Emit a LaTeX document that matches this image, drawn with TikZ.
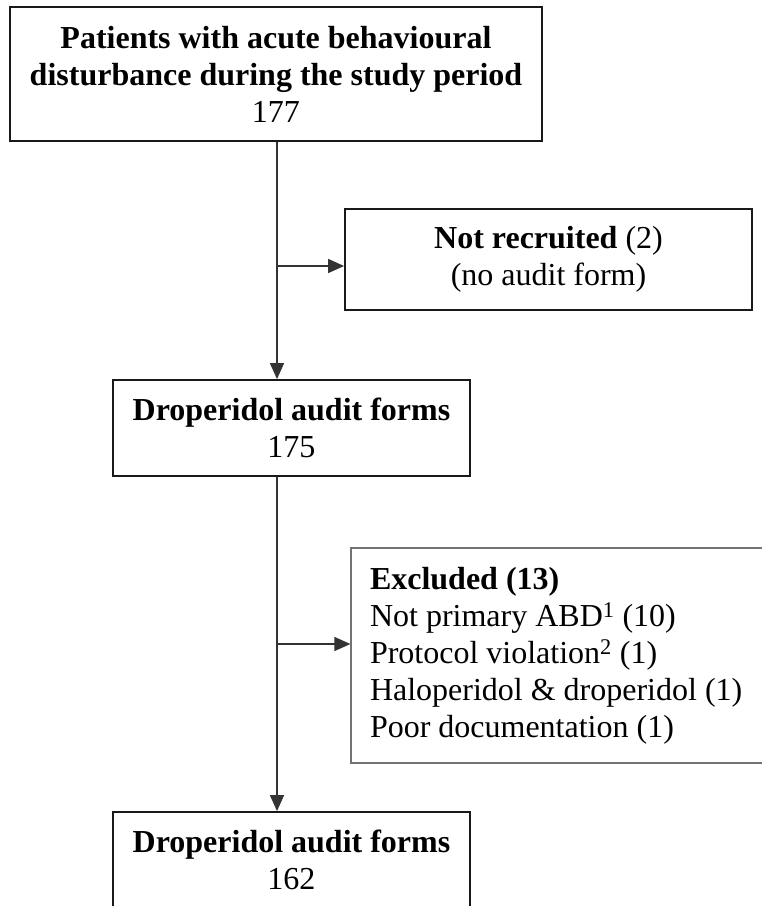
\documentclass[tikz,border=0pt]{standalone}
\usepackage{fontspec}
\setmainfont{Liberation Serif}
\usetikzlibrary{arrows.meta}
\begin{document}
\begin{tikzpicture}[x=1pt,y=-1pt,
  box/.style={draw=black!90,line width=1.8pt,inner sep=0pt,align=center,
    font=\fontsize{32}{37}\selectfont},
  exbox/.style={draw=black!55,line width=1.2pt,inner ysep=0pt,inner xsep=19pt,
    align=flush left,font=\fontsize{32}{37}\selectfont},
  conn/.style={draw=black!80,line width=1.3pt},
  arr/.style={conn,-{Triangle[length=16pt,width=14pt]}}]
\useasboundingbox (0,0) rectangle (762,906);
\node[box,minimum width=532pt,minimum height=134pt] (top) at (276,74)
  {\textbf{Patients with acute behavioural}\\\textbf{disturbance during the study period}\\177};
\node[box,minimum width=407pt,minimum height=101pt] (notrec) at (548.5,259.5)
  {\textbf{Not recruited} (2)\\(no audit form)};
\node[box,minimum width=357pt,minimum height=96pt] (forms1) at (291.5,428)
  {\textbf{Droperidol audit forms}\\175};
\node[exbox,text width=392pt,minimum height=215pt] (excl) at (566,655.5)
  {\textbf{Excluded (13)}\\Not primary ABD\textsuperscript{1} (10)\\Protocol violation\textsuperscript{2} (1)\\Haloperidol \& droperidol (1)\\Poor documentation (1)};
\node[box,minimum width=357pt,minimum height=96pt] (forms2) at (291.5,860)
  {\textbf{Droperidol audit forms}\\162};
\coordinate (spine) at (277,0);
\coordinate (b1) at (277,266);
\coordinate (b2) at (277,644);
\draw[arr] (top.south -| spine) -- (forms1.north -| spine);
\draw[arr] (b1) -- (b1 -| notrec.west);
\draw[arr] (forms1.south -| spine) -- (forms2.north -| spine);
\draw[arr] (b2) -- (b2 -| excl.west);
\end{tikzpicture}
\end{document}
